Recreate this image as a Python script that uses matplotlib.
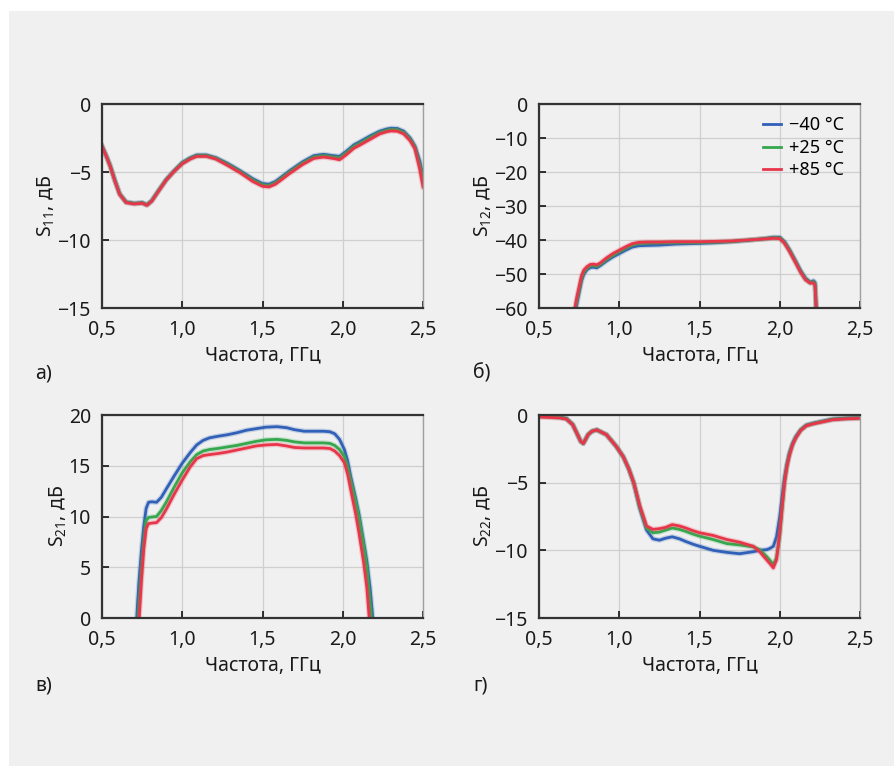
import matplotlib
matplotlib.use("Agg")
import matplotlib.pyplot as plt
from matplotlib.patches import Rectangle
import matplotlib.patheffects as pe

plt.rcParams['font.family'] = ['Noto Sans', 'DejaVu Sans']
plt.rcParams['mathtext.default'] = 'regular'

# ---------------- data ----------------
temps = ['\u221240 \u00b0C', '+25 \u00b0C', '+85 \u00b0C']
colors = ['#3060b8', '#35a84e', '#e8354a']

xticks = [0.5, 1.0, 1.5, 2.0, 2.5]
xtick_labels = ['0,5', '1,0', '1,5', '2,0', '2,5']

# (a) S11
f_a = [0.50, 0.53, 0.55, 0.58, 0.61, 0.65, 0.70, 0.75, 0.78, 0.81, 0.85, 0.90, 0.95, 1.00,
       1.05, 1.09, 1.15, 1.21, 1.28, 1.36, 1.44, 1.50, 1.54, 1.58, 1.62, 1.67, 1.75, 1.82,
       1.88, 1.94, 1.98, 2.02, 2.07, 2.11, 2.17, 2.23, 2.27, 2.30, 2.34, 2.38, 2.42, 2.45,
       2.48, 2.50]
s11_m40 = [-3.1, -3.9, -4.5, -5.6, -6.6, -7.2, -7.3, -7.25, -7.4, -7.1, -6.4, -5.55, -4.9, -4.3,
           -3.95, -3.75, -3.75, -3.95, -4.35, -4.9, -5.5, -5.85, -5.9, -5.7, -5.35, -4.9, -4.25, -3.8,
           -3.7, -3.8, -3.85, -3.5, -3.0, -2.75, -2.35, -2.0, -1.85, -1.78, -1.8, -2.0, -2.5, -3.1,
           -4.2, -5.3]
s11_p25 = [-3.1, -3.92, -4.52, -5.62, -6.62, -7.22, -7.32, -7.27, -7.42, -7.12, -6.42, -5.58, -4.93, -4.35,
           -4.0, -3.8, -3.8, -4.0, -4.42, -4.98, -5.6, -5.95, -6.0, -5.8, -5.45, -5.0, -4.35, -3.9,
           -3.8, -3.9, -3.97, -3.62, -3.12, -2.87, -2.47, -2.1, -1.95, -1.88, -1.9, -2.1, -2.6, -3.2,
           -4.5, -5.7]
s11_p85 = [-3.1, -3.95, -4.55, -5.65, -6.65, -7.25, -7.35, -7.3, -7.45, -7.15, -6.45, -5.6, -4.95, -4.4,
           -4.05, -3.85, -3.85, -4.05, -4.5, -5.05, -5.7, -6.05, -6.1, -5.9, -5.55, -5.1, -4.45, -4.0,
           -3.9, -4.0, -4.1, -3.75, -3.25, -3.0, -2.6, -2.2, -2.05, -1.98, -2.0, -2.2, -2.7, -3.3,
           -4.8, -6.1]
yticks_a = [0, -5, -10, -15]
ytick_labels_a = ['0', '\u22125', '\u221210', '\u221215']

# (b) S12
f_b = [0.72, 0.735, 0.75, 0.765, 0.78, 0.80, 0.82, 0.84, 0.86, 0.88, 0.92, 0.96, 1.00, 1.04,
       1.08, 1.12, 1.17, 1.25, 1.35, 1.50, 1.60, 1.70, 1.80, 1.90, 1.96, 2.00, 2.03, 2.06,
       2.10, 2.13, 2.16, 2.19, 2.21, 2.22, 2.23]
s12_m40 = [-64, -59, -55.5, -52, -50, -48.7, -48.1, -48.0, -48.2, -47.6, -46.2, -45, -44, -43,
           -42.1, -41.7, -41.6, -41.5, -41.2, -41, -40.8, -40.5, -40.1, -39.6, -39.2, -39.2, -40.5, -42.8,
           -46.3, -49, -51.2, -52.4, -52.0, -52.5, -63]
s12_p25 = [-62.5, -58, -54.6, -51.2, -49.4, -48.2, -47.6, -47.5, -47.7, -47.2, -45.7, -44.5, -43.4, -42.4,
           -41.5, -41.0, -40.9, -40.8, -40.7, -40.7, -40.6, -40.4, -40.05, -39.65, -39.35, -39.4, -40.8, -43.0,
           -46.5, -49.3, -51.5, -52.6, -52.3, -53.0, -63]
s12_p85 = [-61, -57, -53.8, -50.5, -48.8, -47.8, -47.2, -47.1, -47.3, -46.8, -45.3, -44, -43, -42,
           -41.1, -40.7, -40.6, -40.6, -40.5, -40.5, -40.4, -40.3, -40.0, -39.7, -39.5, -39.6, -41, -43.3,
           -46.8, -49.5, -51.7, -52.7, -52.6, -53.5, -63]
yticks_b = [0, -10, -20, -30, -40, -50, -60]
ytick_labels_b = ['0', '\u221210', '\u221220', '\u221230', '\u221240', '\u221250', '\u221260']

# (c) S21
f_c = [0.71, 0.72, 0.73, 0.745, 0.76, 0.775, 0.79, 0.81, 0.84, 0.87, 0.90, 0.95, 1.00, 1.05,
       1.09, 1.13, 1.17, 1.22, 1.28, 1.34, 1.40, 1.46, 1.52, 1.59, 1.65, 1.70, 1.76, 1.82,
       1.88, 1.92, 1.95, 1.98, 2.01, 2.03, 2.05, 2.08, 2.10, 2.13, 2.15, 2.17, 2.19, 2.20]
s21_m40 = [-2, 1.0, 3.5, 6.5, 9.0, 10.8, 11.4, 11.45, 11.4, 11.9, 12.7, 14.0, 15.25, 16.3,
           17.05, 17.5, 17.75, 17.9, 18.05, 18.25, 18.5, 18.65, 18.8, 18.85, 18.75, 18.55, 18.4, 18.4,
           18.4, 18.35, 18.15, 17.6, 16.6, 15.5, 13.9, 11.8, 10.3, 7.5, 5.6, 3.0, -0.5, -2]
s21_p25 = [-4, -2, 1.0, 4.5, 7.5, 9.6, 9.9, 9.95, 10.0, 10.6, 11.4, 12.9, 14.3, 15.4,
           16.1, 16.45, 16.6, 16.7, 16.85, 17.0, 17.2, 17.4, 17.55, 17.6, 17.5, 17.35, 17.25, 17.25,
           17.25, 17.2, 17.0, 16.6, 15.9, 14.9, 13.5, 11.5, 10.0, 7.2, 5.0, 1.5, -2, -3]
s21_p85 = [-4, -2, -0.5, 3.5, 6.8, 8.8, 9.3, 9.35, 9.4, 9.9, 10.7, 12.2, 13.6, 14.9,
           15.7, 16.0, 16.1, 16.2, 16.35, 16.55, 16.75, 16.95, 17.05, 17.1, 16.95, 16.8, 16.75, 16.75,
           16.75, 16.7, 16.45, 16.0, 15.3, 14.2, 12.6, 10.3, 8.5, 5.5, 3.0, -1, -3, -4]
yticks_c = [0, 5, 10, 15, 20]
ytick_labels_c = ['0', '5', '10', '15', '20']

# (d) S22
f_d = [0.50, 0.56, 0.63, 0.67, 0.71, 0.74, 0.76, 0.776, 0.79, 0.806, 0.83, 0.86, 0.92, 0.98,
       1.025, 1.06, 1.09, 1.128, 1.17, 1.21, 1.25, 1.29, 1.33, 1.375, 1.415, 1.46, 1.50, 1.585,
       1.67, 1.75, 1.835, 1.875, 1.918, 1.94, 1.96, 1.98, 2.00, 2.015, 2.03, 2.045, 2.06, 2.08,
       2.10, 2.13, 2.165, 2.21, 2.25, 2.33, 2.42, 2.50]
s22_m40 = [-0.05, -0.08, -0.15, -0.25, -0.7, -1.45, -1.95, -2.1, -1.8, -1.45, -1.2, -1.1, -1.45, -2.3,
           -3.08, -4.0, -5.0, -6.9, -8.5, -9.15, -9.25, -9.1, -9.0, -9.15, -9.35, -9.55, -9.7, -10.0,
           -10.15, -10.25, -10.1, -10.0, -9.95, -9.85, -9.7, -9.0, -7.5, -6.0, -4.6, -3.6, -2.8, -2.1,
           -1.6, -1.1, -0.75, -0.6, -0.5, -0.3, -0.22, -0.2]
s22_p25 = [-0.1, -0.12, -0.18, -0.27, -0.7, -1.45, -1.95, -2.1, -1.8, -1.45, -1.2, -1.1, -1.45, -2.3,
           -3.08, -4.0, -5.0, -6.8, -8.35, -8.7, -8.65, -8.5, -8.35, -8.45, -8.6, -8.8, -8.95, -9.2,
           -9.5, -9.6, -9.75, -9.95, -10.45, -10.75, -11.05, -10.55, -8.9, -6.9, -4.9, -3.75, -2.9, -2.15,
           -1.65, -1.12, -0.78, -0.62, -0.52, -0.32, -0.25, -0.22]
s22_p85 = [-0.15, -0.18, -0.22, -0.3, -0.72, -1.45, -1.95, -2.1, -1.8, -1.45, -1.2, -1.1, -1.45, -2.3,
           -3.08, -4.0, -5.0, -6.7, -8.2, -8.45, -8.4, -8.3, -8.1, -8.2, -8.35, -8.55, -8.7, -8.9,
           -9.2, -9.4, -9.7, -10.1, -10.7, -11.0, -11.3, -10.7, -8.7, -6.8, -5.0, -3.8, -3.0, -2.2,
           -1.7, -1.15, -0.8, -0.65, -0.55, -0.35, -0.28, -0.25]
yticks_d = [0, -5, -10, -15]
ytick_labels_d = ['0', '\u22125', '\u221210', '\u221215']

panel_labels = ['а)', 'б)', 'в)', 'г)']
ylabels = ['S$_{11}$, дБ', 'S$_{12}$, дБ', 'S$_{21}$, дБ', 'S$_{22}$, дБ']
xlabel = 'Частота, ГГц'

# ---------------- figure ----------------
W, H = 894, 766
fig = plt.figure(figsize=(W / 100, H / 100), dpi=100, facecolor='white')
bg = '#f0f0f0'
fig.patches.append(Rectangle((9 / W, 0), 1 - 9 / W, 1 - 11 / H, transform=fig.transFigure,
                             facecolor=bg, edgecolor='none', zorder=-10))

def px_axes(l, t, r, b):
    return fig.add_axes([l / W, 1 - b / H, (r - l) / W, (b - t) / H])

boxes = [(102, 104, 423, 308), (539, 104, 860, 308), (102, 415, 423, 618), (539, 415, 860, 618)]
panels = [
    (f_a, [s11_m40, s11_p25, s11_p85], (-15, 0), yticks_a, ytick_labels_a),
    (f_b, [s12_m40, s12_p25, s12_p85], (-60, 0), yticks_b, ytick_labels_b),
    (f_c, [s21_m40, s21_p25, s21_p85], (0, 20), yticks_c, ytick_labels_c),
    (f_d, [s22_m40, s22_p25, s22_p85], (-15, 0), yticks_d, ytick_labels_d),
]

fs = 14
tc = '#1a1a1a'
for i, (box, (fx, series, ylim, yt, ytl)) in enumerate(zip(boxes, panels)):
    ax = px_axes(*box)
    ax.set_facecolor(bg)
    for s, c, lab in zip(series, colors, temps):
        ax.plot(fx, s, color=c, lw=2.0, label=lab, solid_joinstyle='round',
                path_effects=[pe.Stroke(linewidth=3.8, foreground=c, alpha=0.22), pe.Normal()])
    ax.set_xlim(0.5, 2.5)
    ax.set_ylim(*ylim)
    ax.set_xticks(xticks)
    ax.set_xticklabels(xtick_labels)
    ax.set_yticks(yt)
    ax.set_yticklabels(ytl)
    ax.tick_params(direction='in', length=5, width=1.2, color='#111111',
                   labelsize=fs, colors=tc, top=False, right=False)
    ax.tick_params(axis='y', pad=8, color='#111111')
    ax.tick_params(axis='x', pad=9, color='#111111')
    ax.grid(True, color='#cfcfcf', lw=0.9)
    ax.set_axisbelow(True)
    for side in ['left', 'top', 'bottom']:
        ax.spines[side].set_color('#333333')
        ax.spines[side].set_linewidth(1.6)
    ax.spines['right'].set_color('#a0a0a0')
    ax.spines['right'].set_linewidth(1.0)
    ax.set_xlabel(xlabel, fontsize=fs, color=tc, labelpad=4)
    ax.set_ylabel(ylabels[i], fontsize=fs, color=tc, labelpad=0)
    lx = 35 if i % 2 == 0 else 473
    ly = 373 if i < 2 else 685
    fig.text(lx / W, 1 - ly / H, panel_labels[i], fontsize=fs, ha='left', va='center', color=tc)
    if i == 1:
        ax.legend(handles=[plt.Line2D([], [], color=c, lw=2) for c in colors], labels=temps,
                  loc='upper right', bbox_to_anchor=(0.972, 0.975), frameon=False,
                  fontsize=13, handlelength=1.0, handletextpad=0.4, labelspacing=0.25,
                  borderaxespad=0)

fig.savefig('out.png', dpi=100, facecolor='white')
